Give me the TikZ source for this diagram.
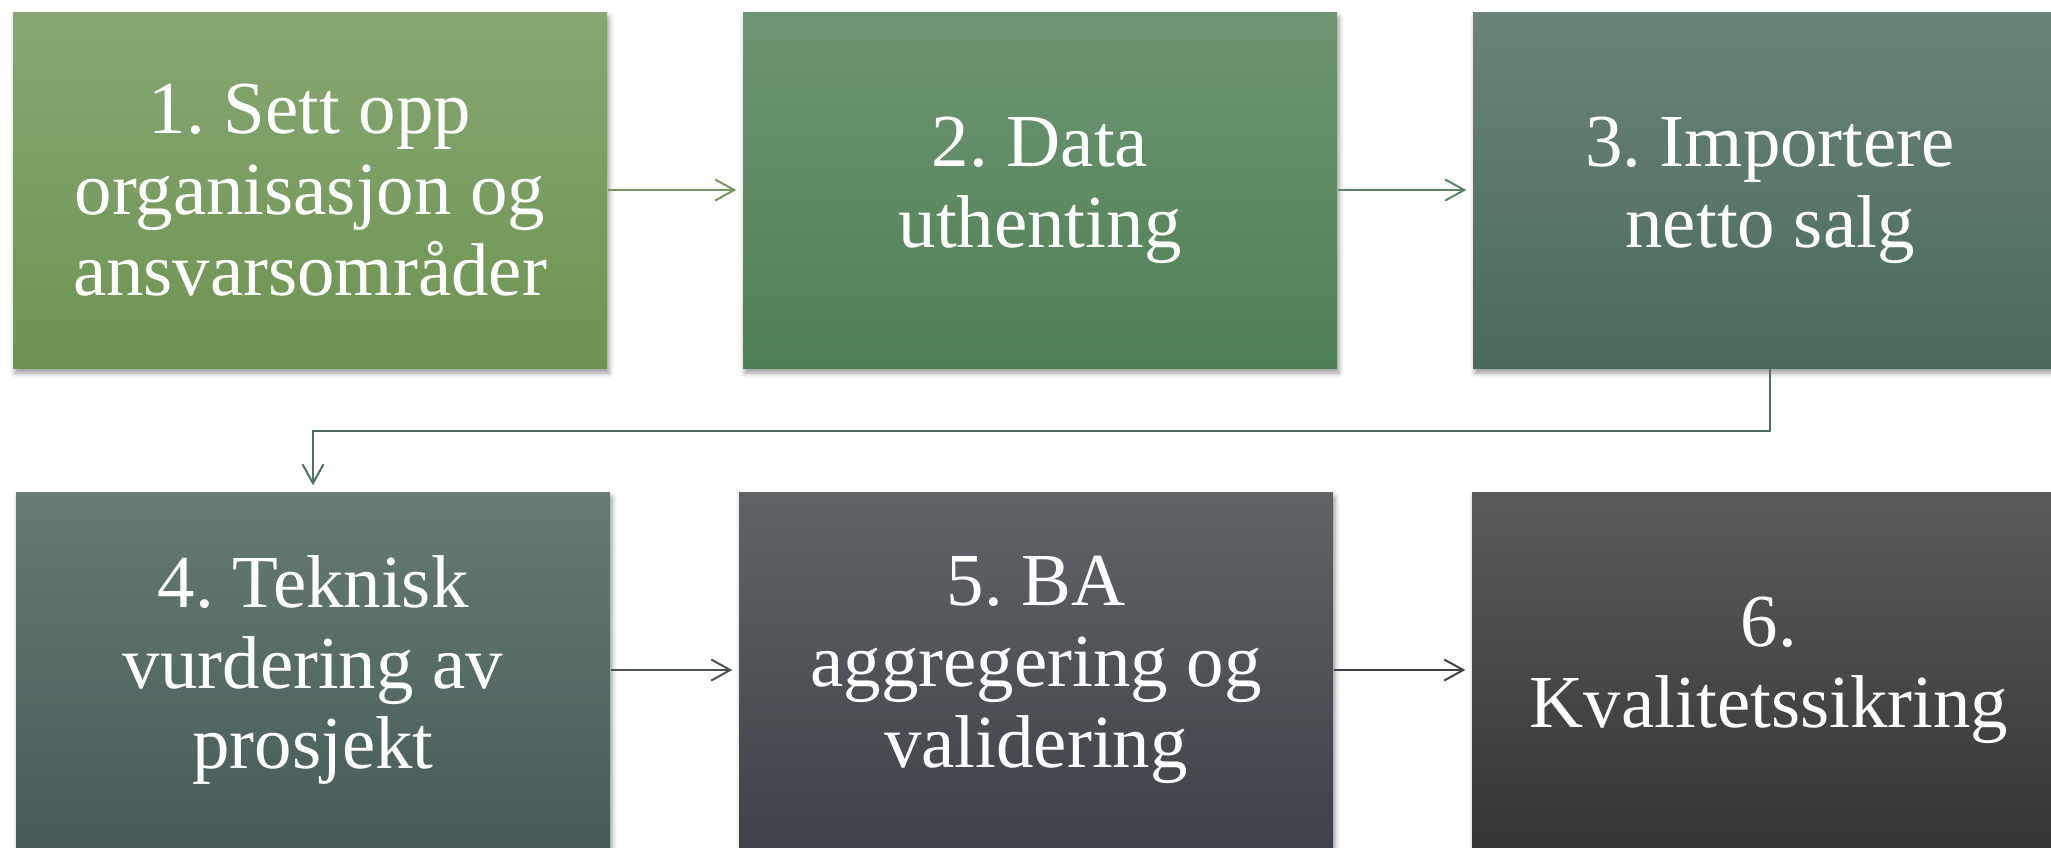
\documentclass[tikz,border=0pt]{standalone}
\usepackage{fontspec}
\setmainfont{Liberation Serif}
\usetikzlibrary{arrows.meta}
\usetikzlibrary{shadows.blur}
\frenchspacing

\definecolor{top1}{HTML}{88A673}
\definecolor{bot1}{HTML}{6E9352}
\definecolor{top2}{HTML}{6E9573}
\definecolor{bot2}{HTML}{4F7F55}
\definecolor{top3}{HTML}{6B8478}
\definecolor{bot3}{HTML}{4A6A5B}
\definecolor{top4}{HTML}{677A75}
\definecolor{bot4}{HTML}{465B58}
\definecolor{top5}{HTML}{606467}
\definecolor{bot5}{HTML}{3E4249}
\definecolor{top6}{HTML}{5B5B5D}
\definecolor{bot6}{HTML}{353537}

\begin{document}
\begin{tikzpicture}[x=0.1mm, y=-0.1mm, >={Straight Barb[length=1.9mm, width=2.1mm]}]
                \tikzstyle{stepbox} = [rectangle, minimum width=59.4mm, minimum height=35.6mm, inner sep=0pt, align=center, text=white, font=\fontsize{21.3}{23}\selectfont, top color=top#1, bottom color=bot#1, blur shadow={shadow xshift=0.2mm, shadow yshift=-0.5mm, shadow blur radius=0.5mm, shadow opacity=40}]
                \tikzstyle{link} = [line width=0.2mm, ->, shorten >=0.6mm, color={#1}]
                \useasboundingbox (0, 0) rectangle (2051, 847);
                \clip (0, 0) rectangle (2051, 847);
                \node[stepbox=1] (sett) at (310, 190) {1. Sett opp\\organisasjon og\\ansvarsområder};
                \node[stepbox=2] (data) at (1040, 190) {2. Data\\uthenting};
                \node[stepbox=3] (import) at (1770, 190) {3. Importere\\netto salg};
                \node[stepbox=4] (teknisk) at (313, 670) {4. Teknisk\\vurdering av\\prosjekt};
                \node[stepbox=5] (ba) at (1036, 670) {5. BA\\aggregering og\\validering};
                \node[stepbox=6] (kval) at (1769, 670) {6.\\Kvalitetssikring};
                \draw[link={rgb,255:red,117;green,152;blue,94}] (sett) -- (data);
                \draw[link={rgb,255:red,91;green,132;blue,99}] (data) -- (import);
                \draw[link={rgb,255:red,80;green,110;blue,97}] (import.south) -- ++(0, 62) -| (teknisk.north);
                \draw[link={rgb,255:red,74;green,84;blue,86}] (teknisk) -- (ba);
                \draw[link={rgb,255:red,64;green,66;blue,70}] (ba) -- (kval);
            \end{tikzpicture}
\end{document}
